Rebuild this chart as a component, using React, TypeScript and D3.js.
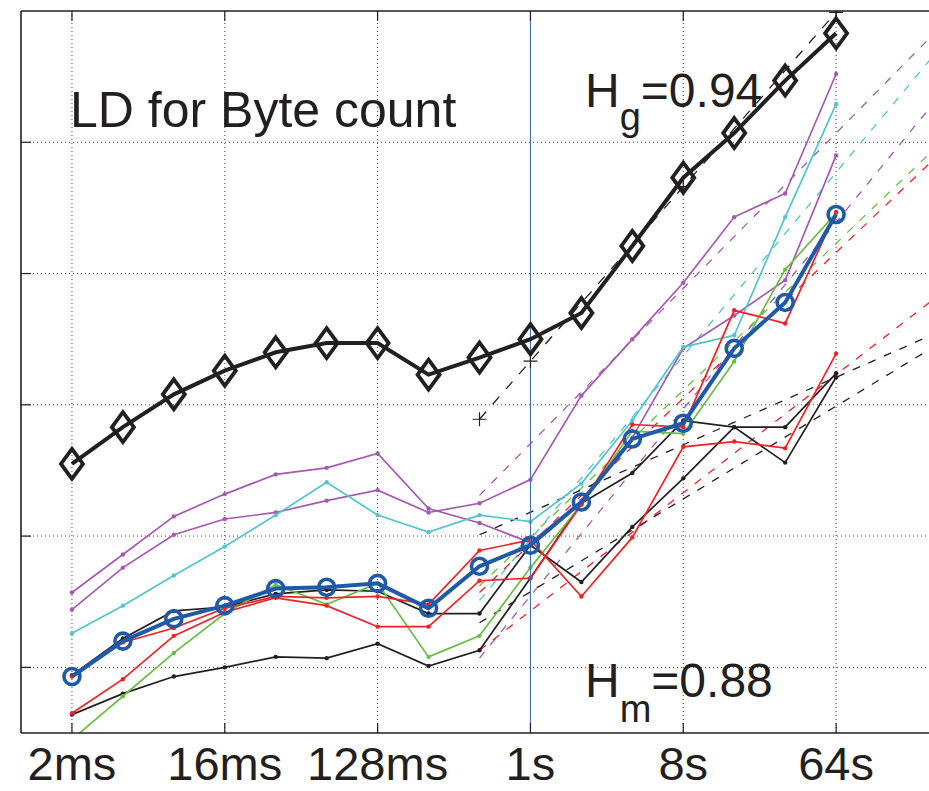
import React from 'react';
import * as d3 from 'd3';

// time scales (ms), one per octave
const timescalesMs = [2, 4, 8, 16, 32, 64, 128, 256, 512, 1024, 2048, 4096, 8192, 16384, 32768, 65536];
const tickMs = [2, 16, 128, 1024, 8192, 65536];
const tickLabels = ['2ms', '16ms', '128ms', '1s', '8s', '64s'];
const yGrid = [1, 2, 3, 4, 5];

// thick series
const globalLD = [2.55, 2.83, 3.08, 3.26, 3.40, 3.47, 3.47, 3.23, 3.36, 3.50, 3.70, 4.21, 4.73, 5.07, 5.47, 5.83];
const meanLD = [0.93, 1.20, 1.37, 1.47, 1.60, 1.61, 1.64, 1.45, 1.77, 1.93, 2.26, 2.74, 2.86, 3.43, 3.78, 4.45];

// thin series
const purpleA = [1.57, 1.86, 2.15, 2.32, 2.47, 2.52, 2.63, 2.21, 2.10, 1.95, 2.27, 2.75, 3.43, 3.68, 3.95, 4.90];
const purpleB = [1.44, 1.76, 2.01, 2.13, 2.18, 2.27, 2.35, 2.18, 2.25, 2.43, 3.07, 3.50, 3.93, 4.43, 4.61, 5.52];
const cyanS = [1.26, 1.47, 1.70, 1.92, 2.16, 2.41, 2.16, 2.03, 2.16, 2.11, 2.40, 2.88, 3.44, 3.53, 4.43, 5.29];
const blackA = [0.94, 1.22, 1.43, 1.46, 1.56, 1.59, 1.58, 1.41, 1.41, 1.93, 1.65, 2.07, 2.44, 2.83, 2.56, 3.21];
const blackB = [0.64, 0.80, 0.93, 1.00, 1.08, 1.07, 1.18, 1.01, 1.13, 1.68, 2.25, 2.48, 2.88, 2.83, 2.83, 3.24];
const redA = [0.93, 1.19, 1.30, 1.45, 1.54, 1.53, 1.54, 1.48, 1.89, 1.97, 1.54, 1.99, 2.68, 2.72, 2.67, 3.39];
const redB = [0.65, 0.91, 1.24, 1.42, 1.53, 1.47, 1.31, 1.31, 1.66, 1.68, 2.24, 2.85, 2.83, 3.72, 3.62, 4.47];
const greenS = [0.45, 0.78, 1.11, 1.41, 1.63, 1.48, 1.64, 1.08, 1.24, 1.76, 2.24, 2.80, 2.78, 3.33, 4.03, 4.46];

// fitted lines: value at 512ms and at 64s
const fitFromMs = 512;
const fitToMs = 65536;
const globalFit = [2.89, 5.99];
const globalFitMarksMs = [512, 1024, 8192, 65536];
const purpleBFit = [2.31, 5.07];
const cyanFit = [1.51, 4.77];
const purpleAFit = [1.07, 4.39];
const greenFit = [1.62, 4.23];
const redBFit = [1.57, 4.16];
const redAFit = [1.13, 3.23];
const blackAFit = [2.01, 3.21];
const blackBFit = [1.34, 2.99];

const C = {
  ink: '#231f20',
  purple: '#a25bb0',
  cyan: '#52c3cf',
  red: '#ec2227',
  green: '#6cbd45',
  blue: '#1f5aa8',
};

const thin = [
  { v: purpleA, c: C.purple },
  { v: purpleB, c: C.purple },
  { v: cyanS, c: C.cyan },
  { v: blackB, c: C.ink },
  { v: blackA, c: C.ink },
  { v: greenS, c: C.green },
  { v: redB, c: C.red },
  { v: redA, c: C.red },
];

const fits = [
  { f: purpleBFit, c: C.purple },
  { f: purpleAFit, c: C.purple },
  { f: cyanFit, c: C.cyan },
  { f: greenFit, c: C.green },
  { f: redBFit, c: C.red },
  { f: redAFit, c: C.red },
  { f: blackAFit, c: C.ink },
  { f: blackBFit, c: C.ink },
];

const W = 929, H = 791;
const left = 21, top = 11, bottom = 733;

export default function App() {
  const x = d3.scaleLog().base(2).domain([1, 262144]).range([left, 938]);
  const y = d3.scaleLinear().domain([0.5, 6]).range([bottom, top]);
  const line = d3.line<number>().x((_, i) => x(timescalesMs[i])).y((d) => y(d));
  const fitVal = (f: number[], t: number) =>
    f[0] + ((f[1] - f[0]) * (Math.log2(t) - Math.log2(fitFromMs))) / (Math.log2(fitToMs) - Math.log2(fitFromMs));
  const fitPath = (f: number[]) => {
    const ts = [fitFromMs, 262144];
    return d3.line<number>().x((t) => x(t)).y((t) => y(fitVal(f, t)))(ts) as string;
  };
  const font = '"Liberation Sans", Arial, Helvetica, sans-serif';
  const right = W + 2;

  return (
    <svg width={W} height={H} style={{ position: 'absolute', left: 0, top: 0, background: '#fff' }}>
      <defs>
        <clipPath id="plot">
          <rect x={left} y={top} width={right - left} height={bottom - top} />
        </clipPath>
      </defs>
      <rect x={0} y={0} width={W} height={H} fill="#fff" />
      {/* grid */}
      <g stroke="#444" strokeWidth={1} strokeDasharray="1 3">
        {tickMs.map((t) => (
          <line key={'gx' + t} x1={x(t)} x2={x(t)} y1={top} y2={bottom} />
        ))}
        {yGrid.map((v) => (
          <line key={'gy' + v} x1={left} x2={right} y1={y(v)} y2={y(v)} />
        ))}
      </g>
      <g clipPath="url(#plot)">
        {/* fitted dashed lines */}
        {fits.map((s, i) => (
          <path key={'f' + i} d={fitPath(s.f)} fill="none" stroke={s.c} strokeWidth={1.3} strokeDasharray="8 9" />
        ))}
        <path d={fitPath(globalFit)} fill="none" stroke={C.ink} strokeWidth={1.3} strokeDasharray="10 10" />
        {/* thin series */}
        {thin.map((s, i) => (
          <g key={'t' + i}>
            <path d={line(s.v) as string} fill="none" stroke={s.c} strokeWidth={1.7} />
            {s.v.map((d, j) => (
              <circle key={j} cx={x(timescalesMs[j])} cy={y(d)} r={2.2} fill={s.c} />
            ))}
          </g>
        ))}
        {/* 1s marker line */}
        <line x1={x(1024)} x2={x(1024)} y1={top} y2={bottom} stroke="#3a6db5" strokeWidth={1} />
        {/* mean series */}
        <path d={line(meanLD) as string} fill="none" stroke={C.blue} strokeWidth={4} />
        {meanLD.map((d, j) => (
          <circle key={'m' + j} cx={x(timescalesMs[j])} cy={y(d)} r={8} fill="none" stroke={C.blue} strokeWidth={3.6} />
        ))}
        {/* global series */}
        <path d={line(globalLD) as string} fill="none" stroke={C.ink} strokeWidth={4} />
        {globalLD.map((d, j) => (
          <path
            key={'g' + j}
            transform={`translate(${x(timescalesMs[j])},${y(d)})`}
            d="M0,-15L11,0L0,15L-11,0Z"
            fill="none"
            stroke={C.ink}
            strokeWidth={3.8}
            strokeLinejoin="miter"
          />
        ))}
        {globalFitMarksMs.map((t) => (
          <path
            key={'p' + t}
            transform={`translate(${x(t)},${y(fitVal(globalFit, t))})`}
            d="M-7,0H7M0,-7V7"
            stroke={C.ink}
            strokeWidth={1.2}
          />
        ))}
      </g>
      {/* axes */}
      <g stroke={C.ink} strokeWidth={1.6} fill="none">
        <line x1={left} x2={left} y1={top} y2={bottom} />
        <line x1={left} x2={right} y1={top} y2={top} />
        <line x1={left} x2={right} y1={bottom} y2={bottom} />
        {tickMs.map((t) => (
          <g key={'tk' + t}>
            <line x1={x(t)} x2={x(t)} y1={bottom} y2={bottom - 10} strokeWidth={1.2} />
            <line x1={x(t)} x2={x(t)} y1={top} y2={top + 10} strokeWidth={1.2} />
          </g>
        ))}
        {yGrid.map((v) => (
          <line key={'ty' + v} x1={left} x2={left + 10} y1={y(v)} y2={y(v)} strokeWidth={1.2} />
        ))}
      </g>
      <g fontFamily={font} fill={C.ink}>
        {tickMs.map((t, i) => (
          <text key={'lb' + t} x={x(t)} y={780} fontSize={47} textAnchor="middle">
            {tickLabels[i]}
          </text>
        ))}
        <text x={70} y={127} fontSize={50}>LD for Byte count</text>
        <text x={585} y={107} fontSize={48}>
          H<tspan fontSize={38} dy={23}>g</tspan>
          <tspan dy={-23}>=0.94</tspan>
        </text>
        <text x={585} y={697} fontSize={48}>
          H<tspan fontSize={38} dy={25}>m</tspan>
          <tspan dy={-25}>=0.88</tspan>
        </text>
      </g>
    </svg>
  );
}
